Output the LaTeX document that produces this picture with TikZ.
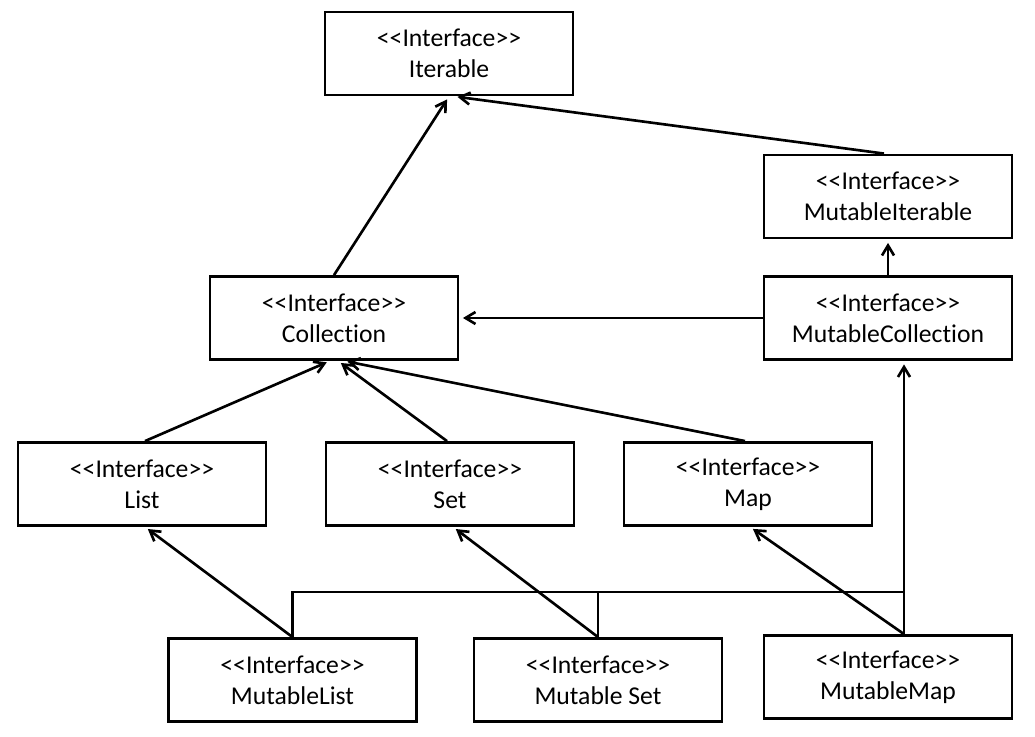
\documentclass[tikz,border=0pt]{standalone}
\usepackage{fontspec}
\newfontfamily\umlfont{Carlito}[Ligatures={NoCommon,NoContextual},Contextuals=NoAlternate]
\usepackage{tikz}
\usetikzlibrary{arrows.meta,calc,positioning}

\tikzset{
  ifbox/.style={draw, line width=1.6pt, minimum width=4.96cm, minimum height=1.66cm,
    align=center, inner sep=0pt, font=\umlfont\fontsize{14.6}{17.6}\selectfont},
  gen/.style={line width=1.5pt, -{Straight Barb[length=2mm,width=2.4mm]}, shorten >=2pt},
  link/.style={line width=1.5pt}
}

\begin{document}
\begin{tikzpicture}
        \useasboundingbox (0,0) rectangle (20.7,14.72);
        % Interfaces
        \node[ifbox] (iter) at (8.98,13.65) {<<Interface>>\\Iterable};
        \node[ifbox] (mutiter) at (17.76,10.79) {<<Interface>>\\MutableIterable};
        \node[ifbox] (coll) at (6.68,8.36) {<<Interface>>\\Collection};
        \node[ifbox] (mutcoll) at (17.76,8.36) {<<Interface>>\\MutableCollection};
        \node[ifbox] (list) at (2.84,5.04) {<<Interface>>\\List};
        \node[ifbox] (set) at (9.0,5.04) {<<Interface>>\\Set};
        \node[ifbox] (map) at (14.96,5.04) {<<Interface>>\\Map};
        \node[ifbox] (mutlist) at (5.85,1.12) {<<Interface>>\\MutableList};
        \node[ifbox] (mutset) at (11.96,1.12) {<<Interface>>\\Mutable Set};
        \node[ifbox] (mutmap) at (17.76,1.18) {<<Interface>>\\MutableMap};
        % Helper points
        \coordinate (mmtop) at ($(mutmap.north)+(0.32,0)$);
        \coordinate (bar) at (mmtop |- 0,2.88);
        % Upper hierarchy
        \draw[gen] (coll.north) -- (iter.south);
        \draw[gen] ($(mutiter.north)+(-0.08,0)$) -- ($(iter.south)+(0.1,0)$);
        \draw[gen] (mutcoll.north) -- (mutiter.south);
        \draw[gen] (mutcoll.west) -- (coll.east);
        % Read-only collections
        \draw[gen] ($(list.north)+(0.06,0)$) -- ($(coll.south)+(-0.08,0)$);
        \draw[gen] ($(set.north)+(-0.06,0)$) -- ($(coll.south)+(0.08,0)$);
        \draw[gen] ($(map.north)+(-0.06,0)$) -- ($(coll.south)+(0.2,0)$);
        % Mutable collections
        \draw[gen] (mutlist.north) -- ($(list.south)+(0.06,0)$);
        \draw[gen] (mutset.north) -- ($(set.south)+(0.06,0)$);
        \draw[gen] (mmtop) -- ($(map.south)+(0.04,0)$);
        % Joint link to MutableCollection
        \draw[link] (mutlist.north) |- (bar);
        \draw[link] (mutset.north) -- (mutset.north |- bar);
        \draw[gen] (mmtop) -- (mmtop |- mutcoll.south);
\end{tikzpicture}
\end{document}
